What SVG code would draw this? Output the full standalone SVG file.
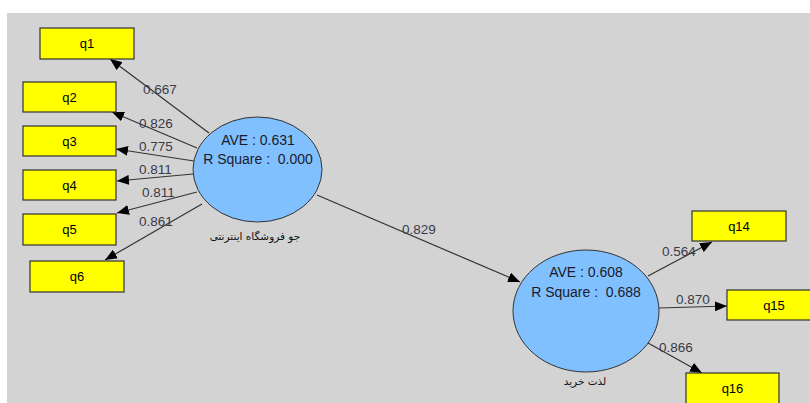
<svg xmlns="http://www.w3.org/2000/svg" width="810" height="403" viewBox="0 0 810 403">
  <defs>
    <marker id="arrow" markerUnits="userSpaceOnUse" markerWidth="12" markerHeight="10" refX="12" refY="5" orient="auto">
      <path d="M0,0 L12,5 L0,10 Z" fill="#000"/>
    </marker>
    <style>
      .ind { fill: #ffff00; stroke: #333; stroke-width: 1.2; }
      .ind-t { font-family: "Liberation Sans", Arial, sans-serif; font-size: 13px; fill: #000; text-anchor: middle; }
      .lv { fill: #80c0ff; stroke: #333; stroke-width: 1; }
      .lv-t { font-family: "Liberation Sans", Arial, sans-serif; font-size: 14px; fill: #1a1a2a; text-anchor: middle; }
      .lv-name { font-family: "DejaVu Sans", "Noto Sans", sans-serif; font-size: 10.5px; fill: #111; text-anchor: middle; }
      .edge { stroke: #333; stroke-width: 1.2; fill: none; marker-end: url(#arrow); }
      .w { font-family: "Liberation Sans", Arial, sans-serif; font-size: 13.5px; fill: #3a3a48; }
    </style>
  </defs>

  <!-- canvas -->
  <rect x="0" y="0" width="810" height="403" fill="#ffffff"/>
  <rect x="7" y="13" width="803" height="390" fill="#d3d3d3"/>

  <!-- connectors -->
  <g id="connectors">
    <line class="edge" x1="209" y1="133" x2="110" y2="59"/>
    <line class="edge" x1="197" y1="148" x2="112" y2="112"/>
    <line class="edge" x1="194" y1="161" x2="116" y2="149"/>
    <line class="edge" x1="193" y1="174" x2="117" y2="181"/>
    <line class="edge" x1="197" y1="192" x2="117" y2="213"/>
    <line class="edge" x1="202" y1="204" x2="105" y2="260"/>
    <line class="edge" x1="317" y1="195" x2="520" y2="282"/>
    <line class="edge" x1="648" y1="276" x2="712" y2="242"/>
    <line class="edge" x1="659" y1="308" x2="727" y2="306"/>
    <line class="edge" x1="648" y1="343" x2="702" y2="373"/>

    <text class="w" x="143" y="94">0.667</text>
    <text class="w" x="139" y="128">0.826</text>
    <text class="w" x="139" y="151">0.775</text>
    <text class="w" x="139" y="174">0.811</text>
    <text class="w" x="142" y="197">0.811</text>
    <text class="w" x="139" y="226">0.861</text>
    <text class="w" x="402" y="234">0.829</text>
    <text class="w" x="662" y="256">0.564</text>
    <text class="w" x="676" y="304">0.870</text>
    <text class="w" x="659" y="352">0.866</text>
  </g>

  <!-- indicators -->
  <g id="q1"><rect class="ind" x="40" y="28" width="94" height="31"/><text class="ind-t" x="87" y="48">q1</text></g>
  <g id="q2"><rect class="ind" x="23" y="82" width="93" height="30"/><text class="ind-t" x="69.5" y="102">q2</text></g>
  <g id="q3"><rect class="ind" x="23" y="126" width="93" height="30"/><text class="ind-t" x="69.5" y="146">q3</text></g>
  <g id="q4"><rect class="ind" x="23" y="170" width="93" height="30"/><text class="ind-t" x="69.5" y="190">q4</text></g>
  <g id="q5"><rect class="ind" x="23" y="214" width="93" height="31"/><text class="ind-t" x="69.5" y="234">q5</text></g>
  <g id="q6"><rect class="ind" x="30" y="261" width="94" height="31"/><text class="ind-t" x="77" y="281">q6</text></g>
  <g id="q14"><rect class="ind" x="692" y="211" width="94" height="30"/><text class="ind-t" x="739" y="231">q14</text></g>
  <g id="q15"><rect class="ind" x="727" y="290" width="94" height="30"/><text class="ind-t" x="774" y="310">q15</text></g>
  <g id="q16"><rect class="ind" x="686" y="373" width="93" height="40"/><text class="ind-t" x="732.5" y="393">q16</text></g>

  <!-- latent variables -->
  <g id="lv-store">
    <ellipse class="lv" cx="257.5" cy="169.5" rx="64.5" ry="52.5"/>
    <text class="lv-t" x="258" y="145">AVE : 0.631</text>
    <text class="lv-t" x="258" y="164" xml:space="preserve">R Square :  0.000</text>
    <text class="lv-name" x="255" y="240" direction="rtl">جو فروشگاه اینترنتی</text>
  </g>
  <g id="lv-pleasure">
    <ellipse class="lv" cx="586" cy="311" rx="73" ry="61"/>
    <text class="lv-t" x="586" y="277">AVE : 0.608</text>
    <text class="lv-t" x="586" y="297" xml:space="preserve">R Square :  0.688</text>
    <text class="lv-name" x="585" y="385" direction="rtl">لذت خرید</text>
  </g>
</svg>
